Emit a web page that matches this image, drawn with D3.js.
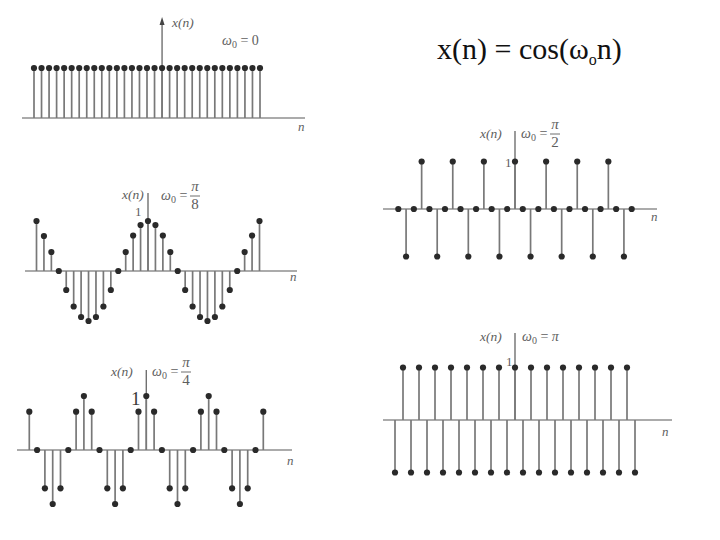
<!DOCTYPE html>
<html><head><meta charset="utf-8">
<script src="https://cdn.jsdelivr.net/npm/d3@7"></script>
<style>body{margin:0;background:#fff}svg{display:block}</style>
</head><body>
<script>
// ---- data ----
const nA = [-17,-16,-15,-14,-13,-12,-11,-10,-9,-8,-7,-6,-5,-4,-3,-2,-1,0,1,2,3,4,5,6,7,8,9,10,11,12,13];
const vA = [1,1,1,1,1,1,1,1,1,1,1,1,1,1,1,1,1,1,1,1,1,1,1,1,1,1,1,1,1,1,1];
const n15 = [-15,-14,-13,-12,-11,-10,-9,-8,-7,-6,-5,-4,-3,-2,-1,0,1,2,3,4,5,6,7,8,9,10,11,12,13,14,15];
const vPi8 = [1,0.7,0.38,0,-0.38,-0.71,-0.92,-1,-0.92,-0.71,-0.38,0,0.38,0.71,0.92,1,0.92,0.71,0.38,0,-0.38,-0.71,-0.92,-1,-0.92,-0.71,-0.38,0,0.38,0.71,1];
const vPi4 = [0.71,0,-0.71,-1,-0.71,0,0.71,1,0.71,0,-0.71,-1,-0.71,0,0.71,1,0.71,0,-0.71,-1,-0.71,0,0.71,1,0.71,0,-0.71,-1,-0.71,0,0.71];
const vPi2 = [0,-1,0,1,0,-1,0,1,0,-1,0,1,0,-1,0,1,0,-1,0,1,0,-1,0,1,0,-1,0,1,0,-1,0];
const vPi = [-1,1,-1,1,-1,1,-1,1,-1,1,-1,1,-1,1,-1,1,-1,1,-1,1,-1,1,-1,1,-1,1,-1,1,-1,1,-1];
const omegaLabels = ["0", "π/8", "π/4", "π/2", "π"];
const titleText = "x(n) = cos(ω";

// ---- layout ----
const W = 720, H = 540;
const FONT = '"Liberation Serif"';
const svg = d3.select("body").append("svg").attr("width", W).attr("height", H);
const T = (sel) => sel.append("text").style("font-family", FONT);

const panels = [
  {n:nA, v:vA, om:omegaLabels[0], x0:34, x1:260, ax:[22,305], y0:118, amp:50, yTop:17, arrow:true,
   xn:[172,27], oml:[222,45], one:null, nl:[298,131]},
  {n:n15, v:vPi8, om:omegaLabels[1], x0:36.5, x1:259.5, ax:[25,297], y0:271, amp:50, yTop:193,
   xn:[122,199], oml:[161,200], one:[135,216], nl:[290,281]},
  {n:n15, v:vPi4, om:omegaLabels[2], x0:29.3, x1:263.3, ax:[17,292], y0:450, amp:54, yTop:370,
   xn:[111,376], oml:[152,376], one:[131,405], oneBig:true, nl:[287,465]},
  {n:n15, v:vPi2, om:omegaLabels[3], x0:398.3, x1:631.7, ax:[383,657], y0:209, amp:47.5, yTop:131,
   xn:[480,138], oml:[521,138], one:[505,167], nl:[651,221]},
  {n:n15, v:vPi, om:omegaLabels[4], x0:395, x1:635, ax:[383,672], y0:420, amp:52.5, yTop:333,
   xn:[480,341], oml:[522,341], one:[506,366], nl:[662,436]}
];

const txtCol = "#5e5e5e";

panels.forEach(p => {
  const g = svg.append("g");
  const x = d3.scaleLinear().domain([p.n[0], p.n[p.n.length-1]]).range([p.x0, p.x1]);
  const y = d3.scaleLinear().domain([-1, 1]).range([p.y0 + p.amp, p.y0 - p.amp]);
  g.append("line").attr("x1", p.ax[0]).attr("x2", p.ax[1]).attr("y1", y(0)).attr("y2", y(0))
    .attr("stroke", "#8f8f8f").attr("stroke-width", 1.7);
  g.append("line").attr("x1", x(0)).attr("x2", x(0)).attr("y1", p.yTop + (p.arrow ? 3 : 0)).attr("y2", y(0))
    .attr("stroke", "#707070").attr("stroke-width", 1.4);
  if (p.arrow) {
    g.append("path").attr("d", `M${x(0)},${p.yTop} l-2.5,8 l5,0 z`).attr("fill", "#444");
  }
  const data = p.n.map((d, i) => ({n: d, v: p.v[i]}));
  g.selectAll("line.stem").data(data.filter(d => d.v !== 0)).join("line").attr("class", "stem")
    .attr("x1", d => x(d.n)).attr("x2", d => x(d.n))
    .attr("y1", y(0)).attr("y2", d => y(d.v))
    .attr("stroke", "#787878").attr("stroke-width", 1.7);
  g.selectAll("circle").data(data).join("circle")
    .attr("cx", d => x(d.n)).attr("cy", d => y(d.v)).attr("r", 3.1)
    .attr("fill", "#2a2a2a");
  T(g).attr("x", p.xn[0]).attr("y", p.xn[1])
    .style("font-style", "italic").style("font-size", "13.5px").attr("fill", txtCol).text("x(n)");
  const ot = T(g).attr("x", p.oml[0]).attr("y", p.oml[1])
    .style("font-size", "14px").attr("fill", txtCol);
  ot.append("tspan").style("font-style", "italic").text("ω");
  ot.append("tspan").style("font-size", "10px").attr("dy", 3).text("0");
  ot.append("tspan").attr("dy", -3).text(" = ");
  if (p.om.includes("/")) {
    const [num, den] = p.om.split("/");
    const ox = p.oml[0] + 34;
    T(g).attr("x", ox).attr("y", p.oml[1] - 9).attr("text-anchor", "middle")
      .style("font-style", "italic").style("font-size", "15px").attr("fill", txtCol).text(num);
    g.append("line").attr("x1", ox - 5).attr("x2", ox + 5).attr("y1", p.oml[1] - 4).attr("y2", p.oml[1] - 4)
      .attr("stroke", txtCol).attr("stroke-width", 0.9);
    T(g).attr("x", ox).attr("y", p.oml[1] + 9).attr("text-anchor", "middle")
      .style("font-size", "15px").attr("fill", txtCol).text(den);
  } else {
    ot.append("tspan").style("font-style", p.om === "π" ? "italic" : "normal").text(p.om);
  }
  if (p.one) {
    T(g).attr("x", p.one[0]).attr("y", p.one[1])
      .style("font-size", p.oneBig ? "19px" : "13px").attr("fill", p.oneBig ? "#3a3a3a" : txtCol).text("1");
  }
  T(g).attr("x", p.nl[0]).attr("y", p.nl[1])
    .style("font-style", "italic").style("font-size", "13px").attr("fill", txtCol).text("n");
});

const tt = T(svg).attr("x", 437).attr("y", 59)
  .style("font-size", "30px").attr("fill", "#111");
tt.append("tspan").text(titleText);
tt.append("tspan").style("font-size", "16px").attr("dy", 6).text("o");
tt.append("tspan").attr("dy", -6).text("n)");
</script>
</body></html>
